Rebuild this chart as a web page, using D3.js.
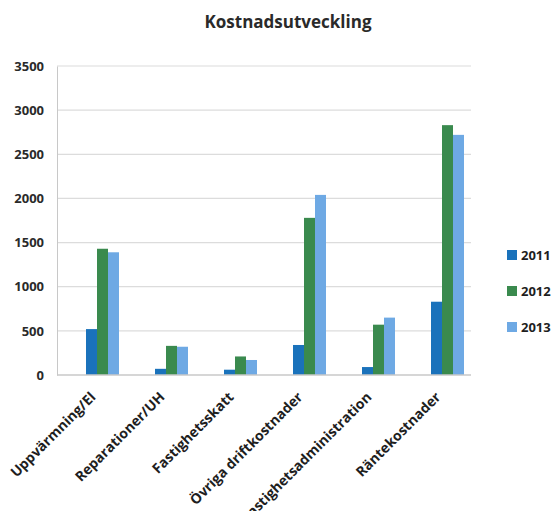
<!DOCTYPE html>
<html>
<head>
<meta charset="utf-8">
<script src="https://cdn.jsdelivr.net/npm/d3@7"></script>
<style>
  body { margin: 0; background: #fff; }
  svg { display: block; }
</style>
</head>
<body>
<div id="chart"></div>
<script>
// data
const categories = ["Uppvärmning/El", "Reparationer/UH", "Fastighetsskatt", "Övriga driftkostnader", "Fastighetsadministration", "Räntekostnader"];
const years = ["2011", "2012", "2013"];
const values2011 = [520, 70, 60, 340, 90, 830];
const values2012 = [1430, 330, 210, 1780, 570, 2830];
const values2013 = [1390, 320, 170, 2040, 650, 2720];
const yTicks = [0, 500, 1000, 1500, 2000, 2500, 3000, 3500];

const series = [values2011, values2012, values2013];
const colors = ["#1a72bb", "#3a8a4e", "#6ea9e4"];

const width = 555, height = 511;
const plot = { left: 57, right: 471, top: 66, bottom: 375 };

const svg = d3.select("#chart").append("svg")
  .attr("width", width)
  .attr("height", height);

const yScale = d3.scaleLinear().domain([0, 3500]).range([plot.bottom, plot.top]);

// bars sit a little right of the plot frame in the scan
const x0 = d3.scaleBand().domain(categories).range([68, 482]);
const x1 = d3.scaleBand().domain(years).range([0, 33]);
const groupOffset = (x0.bandwidth() - 33) / 2;

// gridlines
svg.append("g")
  .selectAll("line")
  .data(yTicks.filter(d => d > 0))
  .enter().append("line")
  .attr("x1", plot.left)
  .attr("x2", plot.right)
  .attr("y1", d => yScale(d))
  .attr("y2", d => yScale(d))
  .attr("stroke", "#dcdcdc")
  .attr("stroke-width", 1.2);

// y axis labels
const yAxis = d3.axisLeft(yScale).tickValues(yTicks).tickFormat(d3.format("d")).tickSize(0).tickPadding(13);
const yg = svg.append("g")
  .attr("transform", "translate(" + plot.left + ",0)")
  .call(yAxis);
yg.select(".domain").attr("stroke", "#c8c8c8");
yg.selectAll("text")
  .style("font-family", "'Open Sans', sans-serif")
  .style("font-weight", "bold")
  .style("font-size", "13px")
  .attr("fill", "#2a2a2a");

// bars
const groups = svg.append("g")
  .selectAll("g")
  .data(categories)
  .enter().append("g")
  .attr("transform", d => "translate(" + (x0(d) + groupOffset) + ",0)");

groups.selectAll("rect")
  .data((d, i) => years.map((y, j) => ({ year: y, value: series[j][i] })))
  .enter().append("rect")
  .attr("x", d => x1(d.year))
  .attr("width", x1.bandwidth())
  .attr("y", d => yScale(d.value))
  .attr("height", d => yScale(0) - yScale(d.value))
  .attr("fill", (d, j) => colors[j]);

// x axis line
svg.append("line")
  .attr("x1", plot.left)
  .attr("x2", plot.right)
  .attr("y1", yScale(0))
  .attr("y2", yScale(0))
  .attr("stroke", "#c8c8c8")
  .attr("stroke-width", 1.5);

// category labels, rotated
svg.append("g")
  .selectAll("text")
  .data(categories)
  .enter().append("text")
  .attr("transform", d => {
    const cx = x0(d) + x0.bandwidth() / 2 - 6;
    return "translate(" + cx + "," + (yScale(0) + 23) + ") rotate(-45)";
  })
  .attr("text-anchor", "end")
  .style("font-family", "'Open Sans', sans-serif")
  .style("font-weight", "bold")
  .style("font-size", "14px")
  .attr("fill", "#1e1e1e")
  .text(d => d);

// title
svg.append("text")
  .attr("x", 288)
  .attr("y", 28)
  .attr("text-anchor", "middle")
  .style("font-family", "'Open Sans', sans-serif")
  .style("font-weight", "bold")
  .style("font-size", "17px")
  .attr("fill", "#2a2a2a")
  .text("Kostnadsutveckling");

// legend
const legend = svg.selectAll(".legend")
  .data(years)
  .enter().append("g")
  .attr("class", "legend")
  .attr("transform", (d, i) => "translate(507," + (250 + i * 36) + ")");

legend.append("rect")
  .attr("width", 10)
  .attr("height", 10)
  .attr("fill", (d, i) => colors[i]);

legend.append("text")
  .attr("x", 14)
  .attr("y", 10)
  .style("font-family", "'Open Sans', sans-serif")
  .style("font-weight", "bold")
  .style("font-size", "13px")
  .attr("fill", "#1e1e1e")
  .text(d => d);
</script>
</body>
</html>
